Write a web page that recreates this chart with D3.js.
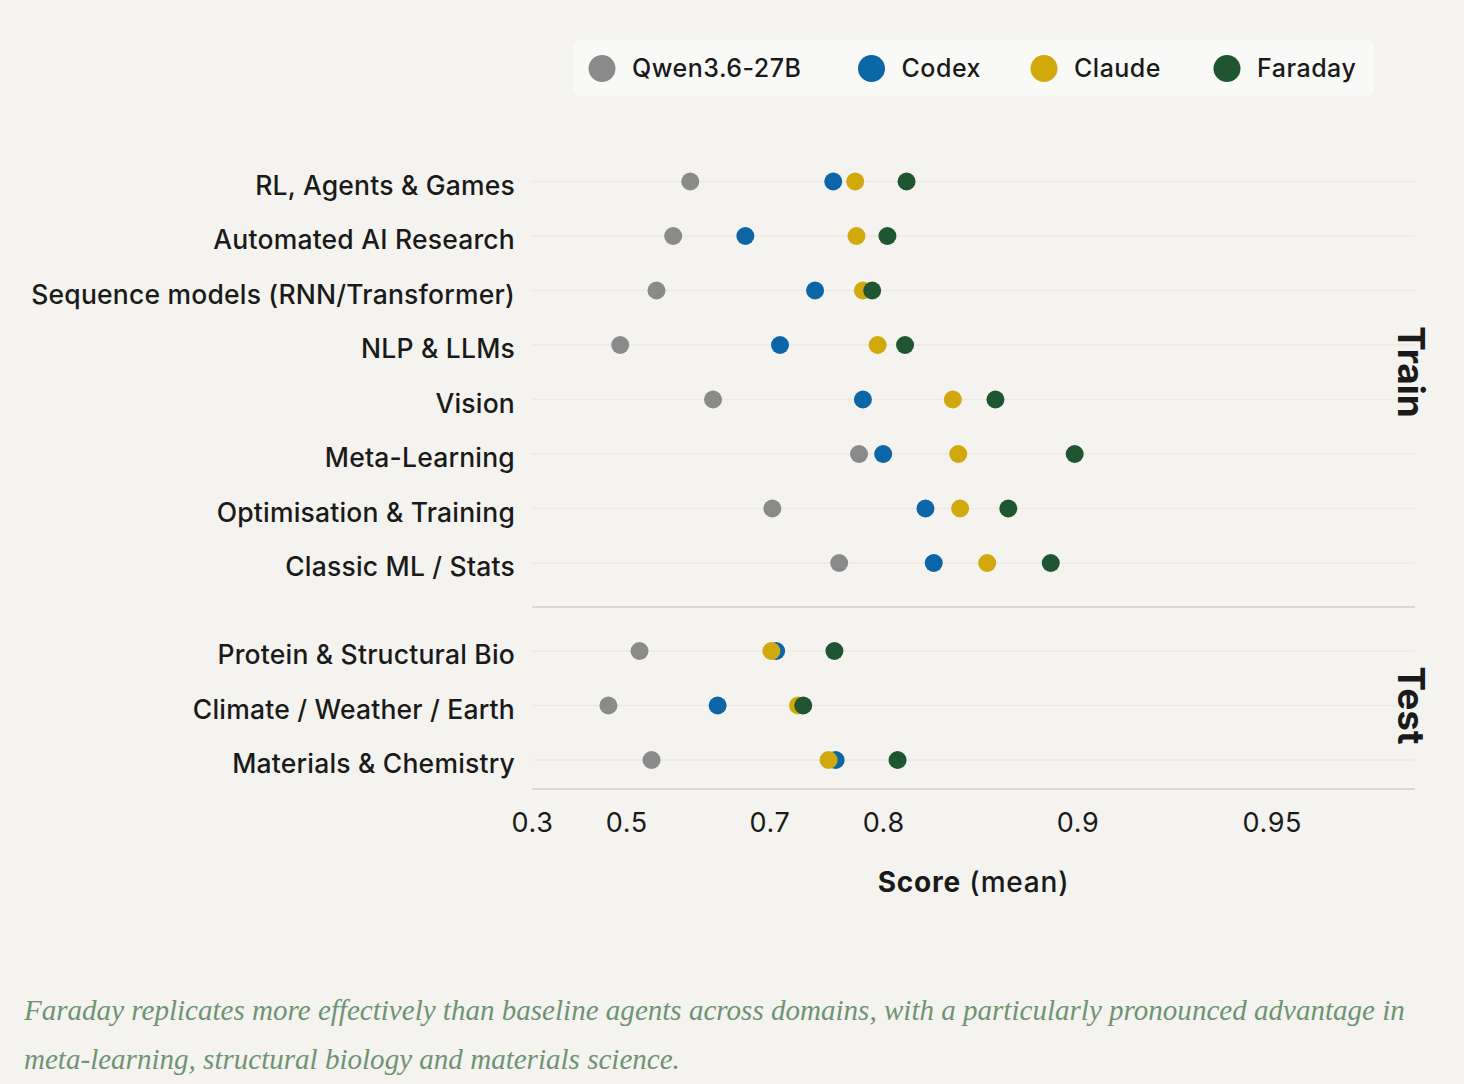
<!DOCTYPE html>
<html>
<head>
<meta charset="utf-8">
<script src="https://cdn.jsdelivr.net/npm/d3@7"></script>
<style>
  html, body { margin: 0; padding: 0; background: #f4f3ef; }
  svg { display: block; }
</style>
</head>
<body>
<script>
// categories, top to bottom, per panel
const trainCats = ["RL, Agents & Games", "Automated AI Research", "Sequence models (RNN/Transformer)",
  "NLP & LLMs", "Vision", "Meta-Learning", "Optimisation & Training", "Classic ML / Stats"];
const testCats = ["Protein & Structural Bio", "Climate / Weather / Earth", "Materials & Chemistry"];

// mean scores, train rows then test rows
const qwen    = [0.602, 0.577, 0.551, 0.489, 0.633, 0.782, 0.703, 0.766, 0.523, 0.467, 0.543];
const codex   = [0.761, 0.673, 0.745, 0.711, 0.785, 0.800, 0.828, 0.833, 0.707, 0.639, 0.763];
const claude  = [0.779, 0.780, 0.785, 0.796, 0.844, 0.847, 0.848, 0.862, 0.702, 0.729, 0.757];
const faraday = [0.816, 0.803, 0.792, 0.815, 0.866, 0.899, 0.872, 0.890, 0.762, 0.734, 0.810];

const seriesNames = ["Qwen3.6-27B", "Codex", "Claude", "Faraday"];
const seriesColors = ["#8a8a8a", "#0c65a6", "#d1a90c", "#1f5631"];
const xTicks = [0.3, 0.5, 0.7, 0.8, 0.9, 0.95];
const caption = ["Faraday replicates more effectively than baseline agents across domains, with a particularly pronounced advantage in",
  "meta-learning, structural biology and materials science."];

const W = 1464, H = 1084;
const font = "Inter, 'Noto Sans', sans-serif";
const ink = "#1a1a1a";
const svg = d3.select("body").append("svg").attr("width", W).attr("height", H);
svg.append("rect").attr("width", W).attr("height", H).attr("fill", "#f4f3ef");

// score axis is log-scaled on the error (1 - score)
const xLog = d3.scaleLog().domain([0.7, 0.03]).range([532, 1415]);
const x = v => xLog(1 - v);

const yTrain = d3.scalePoint().domain(trainCats).range([181.5, 563]);
const yTest = d3.scalePoint().domain(testCats).range([651, 760]);

const rows = trainCats.map((c, i) => ({ cat: c, y: yTrain(c), i }))
  .concat(testCats.map((c, j) => ({ cat: c, y: yTest(c), i: trainCats.length + j })));
const series = [qwen, codex, claude, faraday];

// gridlines
svg.append("g").selectAll("line").data(rows).join("line")
  .attr("x1", 532).attr("x2", 1415)
  .attr("y1", d => d.y).attr("y2", d => d.y)
  .attr("stroke", "#ebeae5").attr("stroke-width", 1.5);

// panel separator + bottom axis line
svg.append("g").selectAll("line").data([607, 789]).join("line")
  .attr("x1", 532).attr("x2", 1415)
  .attr("y1", d => d).attr("y2", d => d)
  .attr("stroke", "#d9d8d3").attr("stroke-width", 2);

// row labels
svg.append("g").selectAll("text").data(rows).join("text")
  .attr("x", 515).attr("y", d => d.y).attr("dy", "0.5em")
  .attr("text-anchor", "end")
  .attr("font-family", font).attr("font-size", 26.5).attr("font-weight", 500)
  .attr("letter-spacing", 0.2).attr("fill", ink)
  .text(d => d.cat);

// dots
series.forEach((vals, s) => {
  svg.append("g").selectAll("circle").data(rows).join("circle")
    .attr("cx", d => x(vals[d.i])).attr("cy", d => d.y).attr("r", 9)
    .attr("fill", seriesColors[s]);
});

// x axis
const axis = d3.axisBottom(xLog)
  .tickValues(xTicks.map(t => 1 - t))
  .tickFormat(d => String(+(1 - d).toFixed(2)))
  .tickSize(0);
const gx = svg.append("g").attr("transform", "translate(0,789)").call(axis);
gx.select(".domain").remove();
gx.selectAll("text")
  .attr("y", 43).attr("dy", 0)
  .attr("font-family", font).attr("font-size", 27).attr("letter-spacing", 0.6).attr("fill", ink);

svg.append("text").attr("x", 973.5).attr("y", 892).attr("text-anchor", "middle")
  .attr("font-family", font).attr("font-size", 28).attr("letter-spacing", 0.8).attr("fill", ink)
  .call(t => {
    t.append("tspan").attr("font-weight", 700).text("Score");
    t.append("tspan").attr("font-weight", 500).text(" (mean)");
  });

// facet strips
[["Train", 372], ["Test", 705.5]].forEach(([lab, cy]) => {
  svg.append("text")
    .attr("transform", `translate(1398,${cy}) rotate(90)`)
    .attr("text-anchor", "middle")
    .attr("font-family", font).attr("font-size", 37).attr("font-weight", 700).attr("fill", ink)
    .text(lab);
});

// legend
const legend = svg.append("g");
legend.append("rect").attr("x", 573).attr("y", 40).attr("width", 801).attr("height", 56)
  .attr("rx", 7).attr("fill", "#f9f9f7");
const legendX = [602, 871.5, 1044, 1227];
seriesNames.forEach((n, i) => {
  legend.append("circle").attr("cx", legendX[i]).attr("cy", 68.5).attr("r", 13.5).attr("fill", seriesColors[i]);
  legend.append("text").attr("x", legendX[i] + 30).attr("y", 77)
    .attr("font-family", font).attr("font-size", 25).attr("font-weight", 500)
    .attr("letter-spacing", 0.5).attr("fill", ink)
    .text(n);
});

// caption
const cap = svg.append("g");
caption.forEach((line, i) => {
  cap.append("text").attr("x", 24).attr("y", 1020 + i * 49)
    .attr("font-family", "'Liberation Serif', serif").attr("font-style", "italic")
    .attr("font-size", 30).attr("fill", "#6f9373")
    .text(line);
});
// fit the first line to the reference width
const first = cap.select("text").node();
const fs = 30 * 1381 / first.getComputedTextLength();
cap.selectAll("text").attr("font-size", fs);
</script>
</body>
</html>
